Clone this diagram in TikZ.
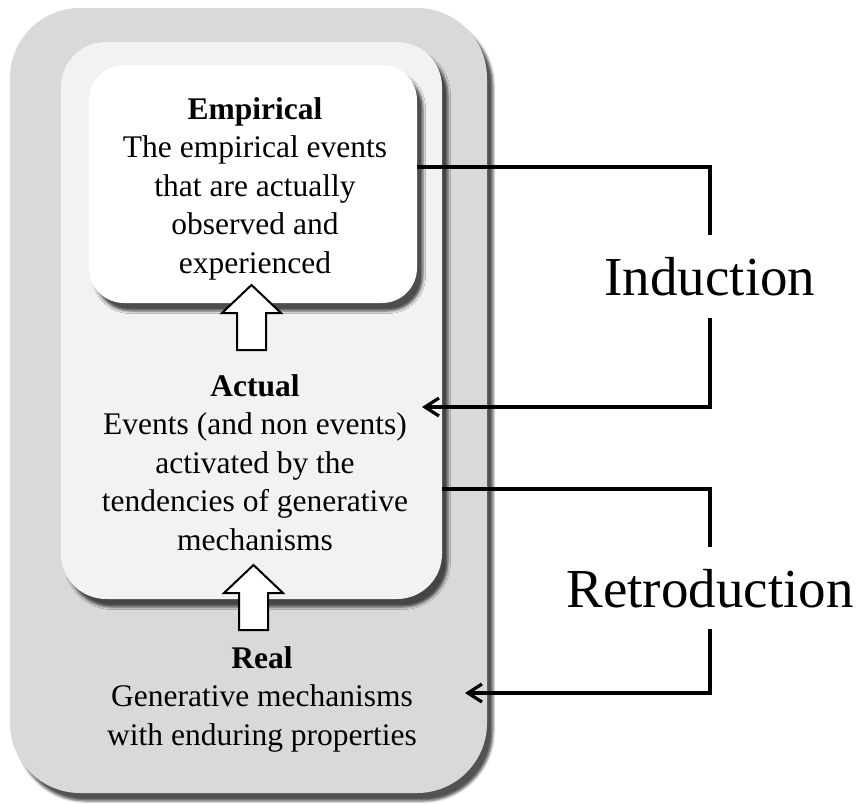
\documentclass[tikz,border=0pt]{standalone}
\usepackage{fontspec}
\setmainfont{Liberation Serif}
\usetikzlibrary{arrows.meta,shadows.blur}
\definecolor{realgray}{HTML}{D9D9D9}
\definecolor{actualgray}{HTML}{F2F2F2}
\begin{document}
\begin{tikzpicture}[x=1pt,y=-1pt,
  level/.style={draw=none, rectangle, rounded corners=#1, inner sep=0pt,
    blur shadow={shadow xshift=6pt, shadow yshift=-8pt,
                 shadow blur radius=2.5pt, shadow opacity=68}},
  body/.style={align=center, inner sep=0pt, anchor=north,
    font=\fontsize{31.5}{38.5}\selectfont},
  method/.style={inner sep=0pt, font=\fontsize{55}{60}\selectfont,
    text height=38pt, text depth=0pt, minimum height=83pt},
  link/.style={line width=3.2pt},
  linkarrow/.style={link, -{Straight Barb[length=14pt,width=18pt]}},
  uparrow/.pic={
    \draw[line width=2pt, fill=white, line join=miter]
      (-14.5,0) -- (-14.5,-37) -- (-29.5,-37) -- (0,-65)
      -- (29.5,-37) -- (14.5,-37) -- (14.5,0) -- cycle;}
]
\useasboundingbox (0,0) rectangle (859,804);

% nested levels of reality
\node[level=70pt, fill=realgray, minimum width=477pt, minimum height=785pt]
  (real) at (248.5,400.5) {};
\node[level=45pt, fill=actualgray, minimum width=381pt, minimum height=557pt]
  (act) at (251.5,320.5) {};
\node[level=35pt, fill=white, minimum width=328pt, minimum height=238pt]
  (emp) at (253,184) {};

% block arrows between the levels
\pic at (251.5,350) {uparrow};
\pic at (253.5,630) {uparrow};

% level descriptions
\node[body] (emptext) at (255,97)
  {\textbf{Empirical}\\The empirical events\\that are actually\\observed and\\experienced};
\node[body] (acttext) at (255,374)
  {\textbf{Actual}\\Events (and non events)\\activated by the\\tendencies of generative\\mechanisms};
\node[body] (realtext) at (262,646)
  {\textbf{Real}\\Generative mechanisms\\with enduring properties};

% modes of inference
\node[method] (ind) at (710,276.5) {Induction};
\node[method, minimum height=82pt] (ret) at (710,588) {Retroduction};

\coordinate (acttip) at (422,407);
\coordinate (realtip) at (465,693);

\draw[link] ([yshift=17pt]emp.east) -| (ind.north);
\draw[linkarrow] (ind.south) |- (acttip);
\draw[link] (act.east |- 0,489) -| (ret.north);
\draw[linkarrow] (ret.south) |- (realtip);
\end{tikzpicture}
\end{document}
